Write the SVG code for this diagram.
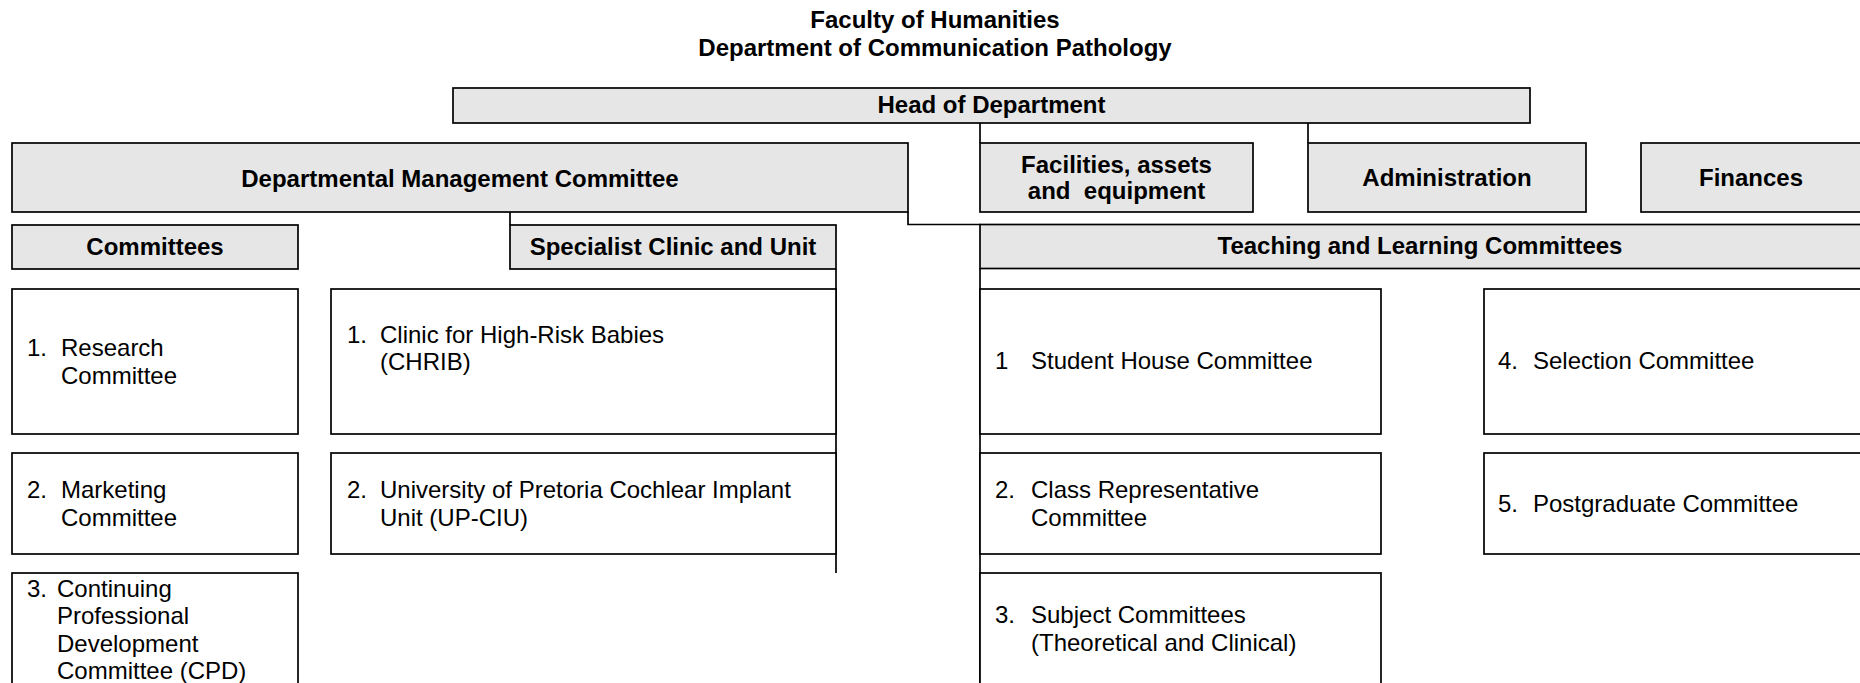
<svg xmlns="http://www.w3.org/2000/svg" width="1860" height="683" viewBox="0 0 1860 683">
<style>
.box{fill:#e6e6e6;stroke:#000;stroke-width:1.7}
.wbox{fill:#fff;stroke:#000;stroke-width:1.7}
.conn{fill:none;stroke:#000;stroke-width:1.7}
text{font-family:"Liberation Sans",Arial,sans-serif;font-size:24px;fill:#000}
.b{font-weight:bold;text-anchor:middle}
.pre{white-space:pre}
</style>
<rect width="1860" height="683" fill="#fff"/>
<g id="title">
<text class="b" x="935" y="28">Faculty of Humanities</text>
<text class="b" x="935" y="56">Department of Communication Pathology</text>
</g>
<g id="connectors">
<path class="conn" d="M980,123V143"/>
<path class="conn" d="M1308,123V143"/>
<path class="conn" d="M510,212V225"/>
<path class="conn" d="M908,212V224.5H980"/>
<path class="conn" d="M836,269V573"/>
<path class="conn" d="M980,268V690"/>
</g>
<g id="head"><rect class="box" x="453" y="88" width="1077" height="35"/><text class="b" x="991.5" y="113">Head of Department</text></g>
<g id="dmc"><rect class="box" x="12" y="143" width="896" height="69"/><text class="b" x="460" y="187">Departmental Management Committee</text></g>
<g id="facilities"><rect class="box" x="980" y="143" width="273" height="69"/><text class="b" x="1116.5" y="173">Facilities, assets</text><text class="b pre" x="1116.5" y="199">and  equipment</text></g>
<g id="administration"><rect class="box" x="1308" y="143" width="278" height="69"/><text class="b" x="1447" y="186">Administration</text></g>
<g id="finances"><rect class="box" x="1641" y="143" width="222" height="69"/><text class="b" x="1751" y="186">Finances</text></g>
<g id="committees"><rect class="box" x="12" y="225" width="286" height="44"/><text class="b" x="155" y="255">Committees</text></g>
<g id="specialist"><rect class="box" x="510" y="225" width="326" height="44"/><text class="b" x="673" y="255">Specialist Clinic and Unit</text></g>
<g id="teaching"><rect class="box" x="980" y="224.5" width="883" height="44"/><text class="b" x="1420" y="254">Teaching and Learning Committees</text></g>
<g id="research"><rect class="wbox" x="12" y="289" width="286" height="145"/><text x="27" y="356">1.</text><text x="61" y="356">Research</text><text x="61" y="384">Committee</text></g>
<g id="marketing"><rect class="wbox" x="12" y="453" width="286" height="101"/><text x="27" y="498">2.</text><text x="61" y="498">Marketing</text><text x="61" y="526">Committee</text></g>
<g id="cpd"><rect class="wbox" x="12" y="573" width="286" height="130"/><text x="27" y="597">3.</text><text x="57" y="597">Continuing</text><text x="57" y="624">Professional</text><text x="57" y="652">Development</text><text x="57" y="679">Committee (CPD)</text></g>
<g id="chrib"><rect class="wbox" x="331" y="289" width="505" height="145"/><text x="347" y="343">1.</text><text x="380" y="343">Clinic for High-Risk Babies</text><text x="380" y="370">(CHRIB)</text></g>
<g id="upciu"><rect class="wbox" x="331" y="453" width="505" height="101"/><text x="347" y="498">2.</text><text x="380" y="498">University of Pretoria Cochlear Implant</text><text x="380" y="526">Unit (UP-CIU)</text></g>
<g id="studenthouse"><rect class="wbox" x="980" y="289" width="401" height="145"/><text x="995" y="369">1</text><text x="1031" y="369">Student House Committee</text></g>
<g id="classrep"><rect class="wbox" x="980" y="453" width="401" height="101"/><text x="995" y="498">2.</text><text x="1031" y="498">Class Representative</text><text x="1031" y="526">Committee</text></g>
<g id="subject"><rect class="wbox" x="980" y="573" width="401" height="130"/><text x="995" y="623">3.</text><text x="1031" y="623">Subject Committees</text><text x="1031" y="651">(Theoretical and Clinical)</text></g>
<g id="selection"><rect class="wbox" x="1484" y="289" width="379" height="145"/><text x="1498" y="369">4.</text><text x="1533" y="369">Selection Committee</text></g>
<g id="postgraduate"><rect class="wbox" x="1484" y="453" width="379" height="101"/><text x="1498" y="512">5.</text><text x="1533" y="512">Postgraduate Committee</text></g>
</svg>
